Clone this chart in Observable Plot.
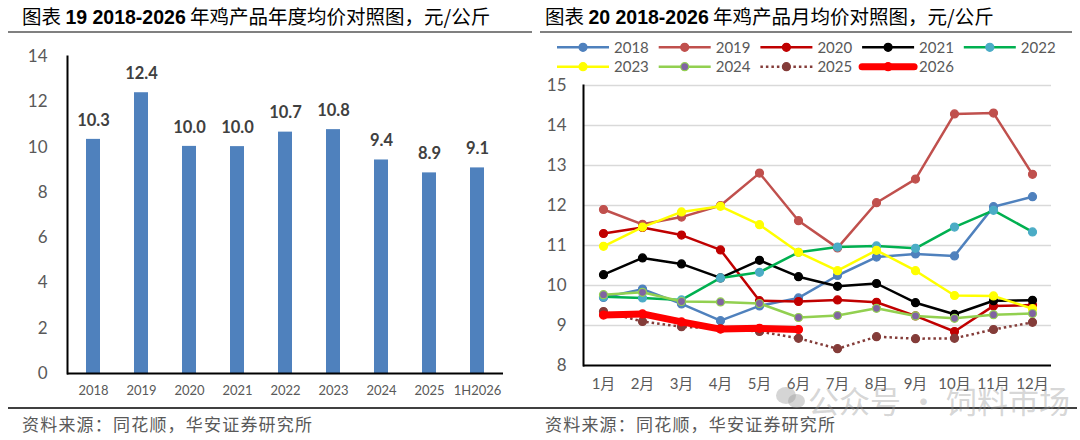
<!DOCTYPE html>
<html><head><meta charset="utf-8">
<script src="https://cdn.jsdelivr.net/npm/d3@7"></script>
<script src="https://cdn.jsdelivr.net/npm/@observablehq/plot@0.6"></script>
<style>
body{margin:0;background:#fff;}
#wrap{position:relative;width:1080px;height:440px;overflow:hidden;background:#fff;font-family:Lato,"Noto Sans CJK SC",sans-serif;}
.title{position:absolute;top:3px;font-size:19.5px;color:#000;white-space:nowrap;font-family:"Noto Sans CJK SC",sans-serif;line-height:26px;}
.title b{font-family:"Liberation Sans",Arial,sans-serif;font-weight:bold;}
.hr{position:absolute;height:2px;background:#808080;}
.hr2{position:absolute;height:1.5px;background:#404040;}
.cap{position:absolute;top:411px;font-size:17px;letter-spacing:1.2px;color:#595959;white-space:nowrap;font-family:"Noto Sans CJK SC",sans-serif;line-height:26px;}
.abs{position:absolute;}
#wm{position:absolute;left:808px;top:380px;font-size:31px;color:rgba(150,150,150,0.4);white-space:nowrap;font-family:"Noto Sans CJK SC",sans-serif;line-height:40px;pointer-events:none;}
.wmi{position:absolute;border-radius:50%;background:rgba(150,150,150,0.4);pointer-events:none;}
</style></head>
<body><div id="wrap">
<div class="title" style="left:22px">图表 <b>19 2018-2026</b> 年鸡产品年度均价对照图，元/公斤</div>
<div class="title" style="left:545px">图表 <b>20 2018-2026</b> 年鸡产品月均价对照图，元/公斤</div>
<div class="hr" style="left:8px;top:31px;width:524px"></div>
<div class="hr" style="left:540px;top:31px;width:532px"></div>
<div id="left" class="abs" style="left:0;top:40px"></div>
<div id="legend" class="abs" style="left:540px;top:36px"></div>
<div id="right" class="abs" style="left:540px;top:76px"></div>
<div class="hr2" style="left:8px;top:407px;width:532px"></div>
<div class="hr2" style="left:540px;top:407px;width:537px"></div>
<div class="cap" style="left:22px">资料来源：同花顺，华安证券研究所</div>
<div class="cap" style="left:545px">资料来源：同花顺，华安证券研究所</div>
<div class="wmi" style="left:776px;top:387px;width:20px;height:17px"></div>
<div class="wmi" style="left:788px;top:394px;width:17px;height:14px"></div>
<div id="wm">公众号 · 饲料市场</div>
</div>
<script>
// ---- Data: annual averages (chart 19)
const years = ["2018","2019","2020","2021","2022","2023","2024","2025","1H2026"];
const annualAvg = [10.34, 12.40, 10.03, 10.02, 10.66, 10.77, 9.43, 8.86, 9.08];
const leftTicks = [0, 2, 4, 6, 8, 10, 12, 14];

// ---- Data: monthly averages (chart 20)
const months = ["1月","2月","3月","4月","5月","6月","7月","8月","9月","10月","11月","12月"];
const seriesNames = ["2018","2019","2020","2021","2022","2023","2024","2025","2026"];
const s2018 = [9.70, 9.91, 9.54, 9.12, 9.49, 9.69, 10.25, 10.71, 10.79, 10.74, 11.97, 12.22];
const s2019 = [11.90, 11.53, 11.71, 12.00, 12.81, 11.62, 10.94, 12.07, 12.66, 14.29, 14.31, 12.78];
const s2020 = [11.30, 11.45, 11.26, 10.89, 9.62, 9.60, 9.64, 9.58, 9.24, 8.85, 9.49, 9.51];
const s2021 = [10.27, 10.69, 10.54, 10.19, 10.63, 10.22, 9.98, 10.05, 9.57, 9.28, 9.62, 9.63];
const s2022 = [9.72, 9.69, 9.64, 10.19, 10.33, 10.83, 10.96, 10.99, 10.93, 11.46, 11.88, 11.34];
const s2023 = [10.98, 11.46, 11.84, 11.98, 11.52, 10.83, 10.37, 10.88, 10.37, 9.75, 9.74, 9.42];
const s2024 = [9.77, 9.83, 9.60, 9.59, 9.55, 9.20, 9.25, 9.43, 9.24, 9.18, 9.27, 9.30];
const s2025 = [9.35, 9.10, 8.97, 8.92, 8.85, 8.68, 8.42, 8.72, 8.67, 8.68, 8.90, 9.08];
const s2026 = [9.26, 9.29, 9.09, 8.91, 8.93, 8.90];
const rightTicks = [8, 9, 10, 11, 12, 13, 14, 15];

// ---- Styles (separate from data)
const seriesValues = [s2018, s2019, s2020, s2021, s2022, s2023, s2024, s2025, s2026];
const lineColor   = ["#4f81bd","#c0504d","#c00000","#000000","#00b050","#ffff00","#92d050","#843c39","#ff0000"];
const dotFill     = ["#4f81bd","#c0504d","#c00000","#000000","#4bacc6","#ffff00","#8064a2","#843c39","#ff0000"];
const dotStroke   = ["#4f81bd","#c0504d","#c00000","#000000","#4bacc6","#ffff00","#92d050","#843c39","#ff0000"];
const lineWidth   = [2.5,2.5,2.5,2.5,2.5,2.5,2.5,2.5,7];
const lineDash    = [null,null,null,null,null,null,null,"2.5,3",null];

const FONT = "Lato, 'Noto Sans CJK SC', sans-serif";

// ---- Left chart
const annual = years.map((y, i) => ({year: y, v: annualAvg[i]}));
const left = Plot.plot({
  width: 530, height: 366,
  marginTop: 16, marginBottom: 33, marginLeft: 67, marginRight: 27,
  style: {fontFamily: FONT, background: "transparent", overflow: "visible"},
  x: {domain: years, paddingInner: 0.7, paddingOuter: 0.35, label: null},
  y: {domain: [0, 14], label: null},
  marks: [
    Plot.barY(annual, {x: "year", y: "v", fill: "#4f81bd"}),
    Plot.text(annual, {x: "year", y: "v", text: d => d3.format(".1f")(d.v), dy: -19,
      fontSize: 16.5, fontWeight: "bold", fill: "#404040"}),
    Plot.axisY({ticks: leftTicks, tickFormat: d3.format("d"), tickSize: 0, tickPadding: 20, fontSize: 17, fill: "#595959", label: null}),
    Plot.axisX({tickSize: 0, tickPadding: 12, fontSize: 13, fill: "#595959", label: null}),
    Plot.frame({anchor: "left", stroke: "#000", strokeWidth: 2}),
    Plot.ruleY([0], {stroke: "#000", strokeWidth: 2})
  ]
});
document.getElementById("left").appendChild(left);

// ---- Right chart
const marks = [
  Plot.ruleY(rightTicks.filter(t => t > 8), {stroke: "#d9d9d9", strokeWidth: 1.5}),
  Plot.axisY({ticks: rightTicks, tickFormat: d3.format("d"), tickSize: 0, tickPadding: 17, fontSize: 17, fill: "#595959", label: null}),
  Plot.axisX({tickSize: 0, tickPadding: 13, fontSize: 15, fill: "#595959", label: null}),
  Plot.frame({anchor: "left", stroke: "#000", strokeWidth: 2}),
  Plot.ruleY([8], {stroke: "#000", strokeWidth: 2})
];
seriesNames.forEach((name, k) => {
  const rows = seriesValues[k].map((v, i) => ({month: months[i], v}));
  marks.push(Plot.line(rows, {x: "month", y: "v", stroke: lineColor[k], strokeWidth: lineWidth[k],
    strokeDasharray: lineDash[k] || undefined, strokeLinejoin: "round", strokeLinecap: name === "2026" ? "round" : "butt"}));
  marks.push(Plot.dot(rows, {x: "month", y: "v", r: 4, fill: dotFill[k], stroke: dotStroke[k], strokeWidth: 1.2}));
});
const right = Plot.plot({
  width: 540, height: 330,
  marginTop: 9, marginBottom: 41, marginLeft: 43, marginRight: 29,
  style: {fontFamily: FONT, background: "transparent", overflow: "visible"},
  x: {type: "point", domain: months, padding: 0.5, label: null},
  y: {domain: [8, 15], label: null},
  marks
});
document.getElementById("right").appendChild(right);

// ---- Legend (HTML-side SVG)
const lg = d3.select("#legend").append("svg").attr("width", 540).attr("height", 40)
  .style("font-family", FONT).style("overflow", "visible");
seriesNames.forEach((name, k) => {
  const row = k < 5 ? 0 : 1;
  const col = k < 5 ? k : k - 5;
  const x0 = 17 + col * 101.7, y0 = 11.3 + row * 19.4;
  const g = lg.append("g");
  g.append("line").attr("x1", x0).attr("x2", x0 + 52).attr("y1", y0).attr("y2", y0)
    .attr("stroke", lineColor[k]).attr("stroke-width", lineWidth[k])
    .attr("stroke-dasharray", lineDash[k]).attr("stroke-linecap", k === 8 ? "round" : "butt");
  g.append("circle").attr("cx", x0 + 26).attr("cy", y0).attr("r", 4)
    .attr("fill", dotFill[k]).attr("stroke", dotStroke[k]).attr("stroke-width", 1.2);
  g.append("text").attr("x", x0 + 57).attr("y", y0).attr("dy", "0.35em")
    .attr("font-size", 15).attr("fill", "#595959").text(name);
});
</script>
</body></html>
